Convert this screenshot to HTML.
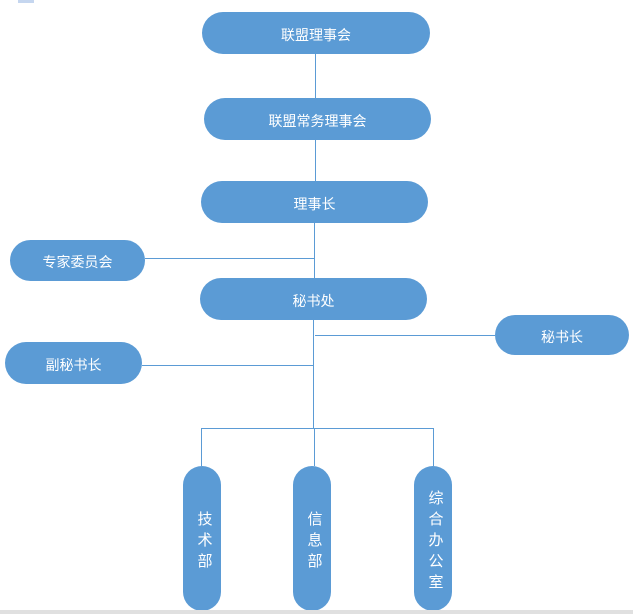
<!DOCTYPE html>
<html><head><meta charset="utf-8"><style>
body{margin:0;width:633px;height:614px;background:#fff;position:relative;overflow:hidden;font-family:"Liberation Sans","Noto Sans CJK SC",sans-serif;}
.b{position:absolute;background:#5b9bd5;color:#fff;font-size:14px;display:flex;align-items:center;justify-content:center;box-sizing:border-box;}
.h{border-radius:21px;padding-top:3px;}
.v{border-radius:19px;flex-direction:column;line-height:21px;font-size:15px;padding-left:6px;padding-top:4px;}
.l{position:absolute;background:#5b9bd5;}
</style></head><body>
<div style="position:absolute;left:18px;top:0;width:16px;height:3px;background:#c5d6ef"></div>
<div class="l" style="left:315px;top:54px;width:1px;height:44px"></div>
<div class="l" style="left:315px;top:140px;width:1px;height:41px"></div>
<div class="l" style="left:314px;top:223px;width:1px;height:55px"></div>
<div class="l" style="left:145px;top:258px;width:170px;height:1px"></div>
<div class="l" style="left:313px;top:320px;width:1px;height:108px"></div>
<div class="l" style="left:315px;top:335px;width:180px;height:1px"></div>
<div class="l" style="left:142px;top:365px;width:172px;height:1px"></div>
<div class="l" style="left:201px;top:428px;width:233px;height:1px"></div>
<div class="l" style="left:201px;top:428px;width:1px;height:38px"></div>
<div class="l" style="left:314px;top:428px;width:1px;height:38px"></div>
<div class="l" style="left:433px;top:428px;width:1px;height:38px"></div>
<div class="b h" style="left:202px;top:12px;width:228px;height:42px">联盟理事会</div>
<div class="b h" style="left:204px;top:98px;width:227px;height:42px">联盟常务理事会</div>
<div class="b h" style="left:201px;top:181px;width:227px;height:42px">理事长</div>
<div class="b h" style="left:10px;top:240px;width:135px;height:41px;border-radius:21px">专家委员会</div>
<div class="b h" style="left:200px;top:278px;width:227px;height:42px">秘书处</div>
<div class="b h" style="left:495px;top:315px;width:134px;height:40px;border-radius:20px">秘书长</div>
<div class="b h" style="left:5px;top:342px;width:137px;height:42px">副秘书长</div>
<div class="b v" style="left:183px;top:466px;width:38px;height:145px"><span>技</span><span>术</span><span>部</span></div>
<div class="b v" style="left:293px;top:466px;width:38px;height:145px"><span>信</span><span>息</span><span>部</span></div>
<div class="b v" style="left:414px;top:466px;width:38px;height:145px"><span>综</span><span>合</span><span>办</span><span>公</span><span>室</span></div>
<div style="position:absolute;left:0;top:610px;width:633px;height:4px;background:#e0e0e0"></div>
</body></html>
